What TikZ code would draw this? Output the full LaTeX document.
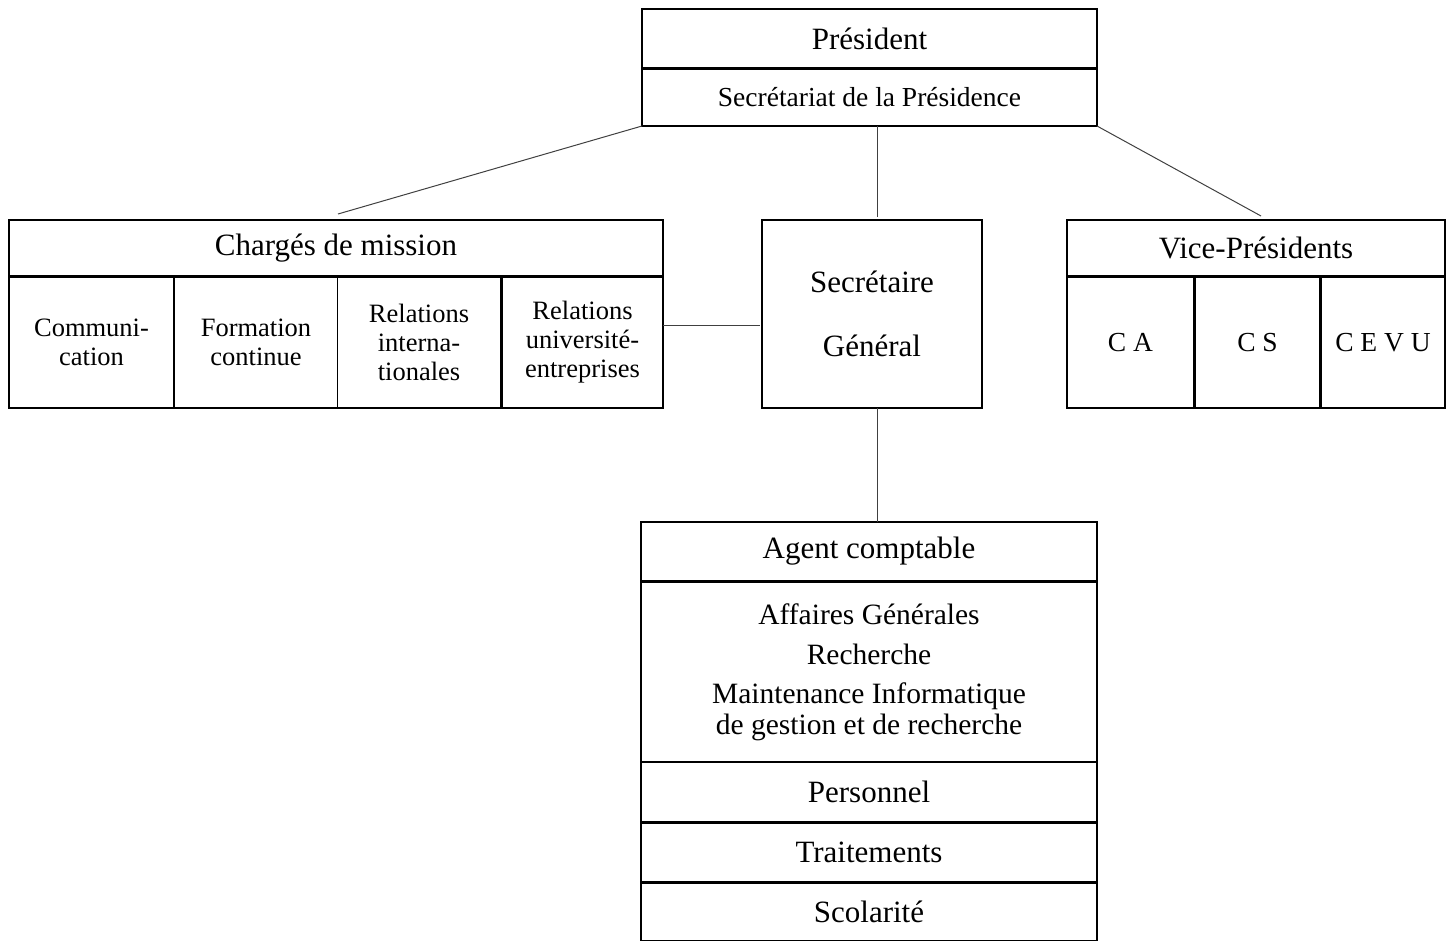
\documentclass[tikz,border=0pt]{standalone}
\usepackage{fontspec}
\setmainfont{Liberation Serif}
\begin{document}
\begin{tikzpicture}[x=1pt,y=-1pt,
  bx/.style={draw=black,line width=1.4pt,inner sep=0pt,outer sep=0pt,anchor=north west,align=center},
  big/.style={font=\fontsize{31}{33}\selectfont},
  mid/.style={font=\fontsize{27.5}{30}\selectfont},
  sml/.style={font=\fontsize{26.5}{29}\selectfont},
  link/.style={draw=black!75,line width=1pt}]
\useasboundingbox (0,0) rectangle (1455,941);
% top
\node[bx,big,minimum width=455,minimum height=59] (pres) at (642,9) {Président};
\node[bx,mid,minimum width=455,minimum height=57] (sec) at (642,69) {Secrétariat de la Présidence};
% chargés de mission
\node[bx,big,minimum width=654,minimum height=56] (cm) at (9,220) {Chargés de mission};
\node[bx,sml,minimum width=165,minimum height=131] (com) at (9,277) {Communi-\\cation};
\node[bx,sml,minimum width=163,minimum height=131] (form) at (174.5,277) {Formation\\continue};
\node[bx,sml,minimum width=163,minimum height=131] (ri) at (337.5,277) {Relations\\interna-\\tionales};
\node[bx,sml,minimum width=161,minimum height=131] (ru) at (502,277) {Relations\\université-\\entreprises};
% secrétaire général
\node[bx,big,minimum width=220,minimum height=188] (sg) at (762,220) {Secrétaire\\[31pt]Général};
% vice-présidents
\node[bx,big,minimum width=378,minimum height=56] (vp) at (1067,220) {Vice-Présidents};
\node[bx,mid,minimum width=127,minimum height=131] (ca) at (1067,277) {C A};
\node[bx,mid,minimum width=125,minimum height=131] (cs) at (1195,277) {C S};
\node[bx,mid,minimum width=124,minimum height=131] (cevu) at (1321,277) {C E V U};
% agent comptable
\node[bx,big,minimum width=456,minimum height=59] (ac) at (641,522) {Agent comptable};
\node[bx,font=\fontsize{29.5}{31}\selectfont,minimum width=456,minimum height=179] (ag) at (641,582.5)
  {Affaires Générales\\[9pt]Recherche\\[8pt]Maintenance Informatique\\de gestion et de recherche};
\node[bx,big,minimum width=456,minimum height=59] (pers) at (641,762.5) {Personnel};
\node[bx,big,minimum width=456,minimum height=59] (trait) at (641,823) {Traitements};
\node[bx,big,minimum width=456,minimum height=58] (scol) at (641,883) {Scolarité};
% connector ends
\coordinate (cL) at (338,214);
\coordinate (cM) at (877,217);
\coordinate (cR) at (1261,216);
\coordinate (hL) at (760,325);
% connectors
\draw[link] (sec.south west) -- (cL);
\draw[link] (sec.south -| cM) -- (cM);
\draw[link] (sec.south east) -- (cR);
\draw[link] (ru.east |- hL) -- (hL);
\draw[link] (sg.south -| cM) -- (ac.north -| cM);
\end{tikzpicture}
\end{document}
